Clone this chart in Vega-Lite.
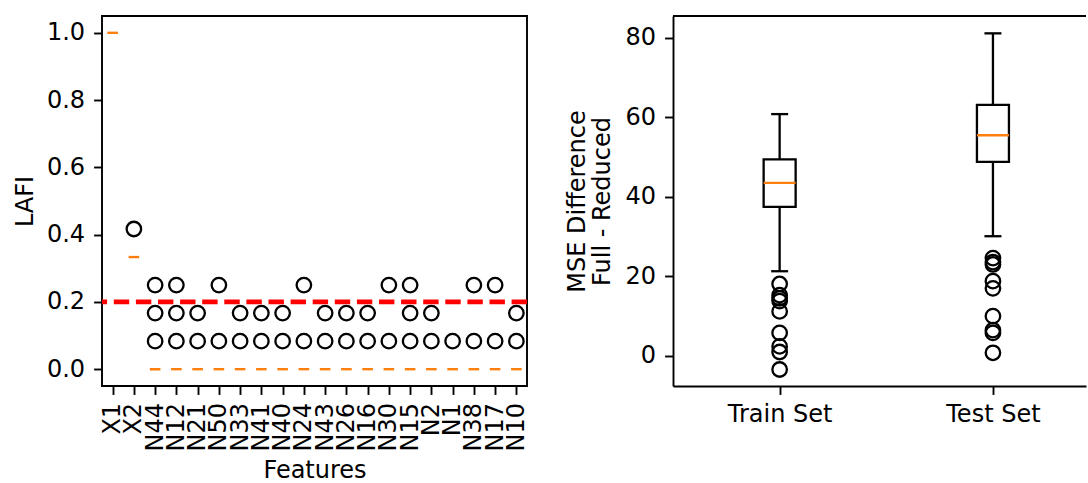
{
  "$schema": "https://vega.github.io/schema/vega-lite/v6.json",
  "padding": {"left": 12, "top": 15, "right": 0, "bottom": 0},
  "bounds": "flush",
  "spacing": 146,
  "config": {
    "font": "DejaVu Sans",
    "view": {"stroke": "#000000", "strokeWidth": 1.9},
    "axis": {
      "domain": false,
      "grid": false,
      "ticks": true,
      "tickColor": "#000000",
      "tickSize": 8.4,
      "tickWidth": 1.9,
      "labelColor": "#000000",
      "labelFont": "DejaVu Sans",
      "labelFontSize": 24,
      "labelPadding": 8,
      "titleColor": "#000000",
      "titleFont": "DejaVu Sans",
      "titleFontSize": 24,
      "titleFontWeight": "normal"
    }
  },
  "datasets": {
    "lafi_medians": [
      {"Feature": "X1", "median": 1.0},
      {"Feature": "X2", "median": 0.3333},
      {"Feature": "N44", "median": 0},
      {"Feature": "N12", "median": 0},
      {"Feature": "N21", "median": 0},
      {"Feature": "N50", "median": 0},
      {"Feature": "N33", "median": 0},
      {"Feature": "N41", "median": 0},
      {"Feature": "N40", "median": 0},
      {"Feature": "N24", "median": 0},
      {"Feature": "N43", "median": 0},
      {"Feature": "N26", "median": 0},
      {"Feature": "N16", "median": 0},
      {"Feature": "N30", "median": 0},
      {"Feature": "N15", "median": 0},
      {"Feature": "N2", "median": 0},
      {"Feature": "N1", "median": 0},
      {"Feature": "N38", "median": 0},
      {"Feature": "N17", "median": 0},
      {"Feature": "N10", "median": 0}
    ],
    "lafi_outliers": [
      {"Feature": "X2", "LAFI": 0.4167},
      {"Feature": "N44", "LAFI": 0.0833}, {"Feature": "N44", "LAFI": 0.1667}, {"Feature": "N44", "LAFI": 0.25},
      {"Feature": "N12", "LAFI": 0.0833}, {"Feature": "N12", "LAFI": 0.1667}, {"Feature": "N12", "LAFI": 0.25},
      {"Feature": "N21", "LAFI": 0.0833}, {"Feature": "N21", "LAFI": 0.1667},
      {"Feature": "N50", "LAFI": 0.0833}, {"Feature": "N50", "LAFI": 0.25},
      {"Feature": "N33", "LAFI": 0.0833}, {"Feature": "N33", "LAFI": 0.1667},
      {"Feature": "N41", "LAFI": 0.0833}, {"Feature": "N41", "LAFI": 0.1667},
      {"Feature": "N40", "LAFI": 0.0833}, {"Feature": "N40", "LAFI": 0.1667},
      {"Feature": "N24", "LAFI": 0.0833}, {"Feature": "N24", "LAFI": 0.25},
      {"Feature": "N43", "LAFI": 0.0833}, {"Feature": "N43", "LAFI": 0.1667},
      {"Feature": "N26", "LAFI": 0.0833}, {"Feature": "N26", "LAFI": 0.1667},
      {"Feature": "N16", "LAFI": 0.0833}, {"Feature": "N16", "LAFI": 0.1667},
      {"Feature": "N30", "LAFI": 0.0833}, {"Feature": "N30", "LAFI": 0.25},
      {"Feature": "N15", "LAFI": 0.0833}, {"Feature": "N15", "LAFI": 0.1667}, {"Feature": "N15", "LAFI": 0.25},
      {"Feature": "N2", "LAFI": 0.0833}, {"Feature": "N2", "LAFI": 0.1667},
      {"Feature": "N1", "LAFI": 0.0833},
      {"Feature": "N38", "LAFI": 0.0833}, {"Feature": "N38", "LAFI": 0.25},
      {"Feature": "N17", "LAFI": 0.0833}, {"Feature": "N17", "LAFI": 0.25},
      {"Feature": "N10", "LAFI": 0.0833}, {"Feature": "N10", "LAFI": 0.1667}
    ],
    "mse_boxes": [
      {"Set": "Train Set", "lower": 21.3, "q1": 37.5, "median": 43.5, "q3": 49.4, "upper": 60.8},
      {"Set": "Test Set", "lower": 30.1, "q1": 48.8, "median": 55.5, "q3": 63.1, "upper": 81.1}
    ],
    "mse_outliers": [
      {"Set": "Train Set", "MSE": 18.1},
      {"Set": "Train Set", "MSE": 15.3},
      {"Set": "Train Set", "MSE": 14.5},
      {"Set": "Train Set", "MSE": 13.8},
      {"Set": "Train Set", "MSE": 11.2},
      {"Set": "Train Set", "MSE": 5.8},
      {"Set": "Train Set", "MSE": 2.4},
      {"Set": "Train Set", "MSE": 1.0},
      {"Set": "Train Set", "MSE": -3.4},
      {"Set": "Test Set", "MSE": 24.6},
      {"Set": "Test Set", "MSE": 23.6},
      {"Set": "Test Set", "MSE": 23.0},
      {"Set": "Test Set", "MSE": 18.8},
      {"Set": "Test Set", "MSE": 17.0},
      {"Set": "Test Set", "MSE": 10.0},
      {"Set": "Test Set", "MSE": 6.5},
      {"Set": "Test Set", "MSE": 5.8},
      {"Set": "Test Set", "MSE": 0.8}
    ]
  },
  "hconcat": [
    {
      "width": 425,
      "height": 370,
      "layer": [
        {
          "data": {"name": "lafi_medians"},
          "mark": {"type": "tick", "orient": "horizontal", "color": "#ff7f0e", "size": 10.6, "thickness": 2.4, "opacity": 1},
          "encoding": {
            "x": {
              "field": "Feature", "type": "nominal",
              "scale": {"type": "point", "padding": 0.5,
                "domain": ["X1", "X2", "N44", "N12", "N21", "N50", "N33", "N41", "N40", "N24", "N43", "N26", "N16", "N30", "N15", "N2", "N1", "N38", "N17", "N10"]},
              "axis": {"title": "Features", "labelAngle": -90, "labelAlign": "right", "labelBaseline": "middle",
                "titleY": 84, "titleBaseline": "middle"}
            },
            "y": {
              "field": "median", "type": "quantitative",
              "scale": {"domain": [-0.05, 1.05], "nice": false, "zero": false},
              "axis": {"title": "LAFI", "values": [0, 0.2, 0.4, 0.6, 0.8, 1.0], "format": ".1f", "labelPadding": 9,
                "titleAngle": 270, "titleAlign": "center", "titleBaseline": "middle", "titleX": -77, "titleY": 185}
            }
          }
        },
        {
          "data": {"name": "lafi_outliers"},
          "mark": {"type": "point", "shape": "circle", "filled": false, "color": "#000000", "strokeWidth": 2.3, "size": 210, "opacity": 1},
          "encoding": {
            "x": {"field": "Feature", "type": "nominal"},
            "y": {"field": "LAFI", "type": "quantitative"}
          }
        },
        {
          "data": {"values": [{"threshold": 0.2}]},
          "mark": {"type": "rule", "color": "#ff0000", "strokeWidth": 4.6, "strokeDash": [15.4, 6.7]},
          "encoding": {
            "y": {"field": "threshold", "type": "quantitative"}
          }
        }
      ]
    },
    {
      "width": 413,
      "height": 370,
      "view": {"stroke": null},
      "layer": [
        {
          "data": {"name": "mse_boxes"},
          "mark": {"type": "rule", "color": "#000000", "strokeWidth": 2.3},
          "encoding": {
            "x": {
              "field": "Set", "type": "nominal",
              "scale": {"type": "point", "padding": 0.4681, "align": 0.534, "domain": ["Train Set", "Test Set"]},
              "axis": {"title": null, "labelAngle": 0, "domain": true, "domainColor": "#000000", "domainWidth": 1.9}
            },
            "y": {
              "field": "lower", "type": "quantitative",
              "scale": {"domain": [-7.55, 85.46], "nice": false, "zero": false},
              "axis": {"title": ["MSE Difference", "Full - Reduced"], "values": [0, 20, 40, 60, 80], "labelPadding": 9,
                "domain": true, "domainColor": "#000000", "domainWidth": 1.9,
                "titleAngle": 270, "titleAlign": "center", "titleBaseline": "middle", "titleLineHeight": 25,
                "titleX": -96, "titleY": 185}
            },
            "y2": {"field": "q1"}
          }
        },
        {
          "data": {"name": "mse_boxes"},
          "mark": {"type": "rule", "color": "#000000", "strokeWidth": 2.3},
          "encoding": {
            "x": {"field": "Set", "type": "nominal"},
            "y": {"field": "q3", "type": "quantitative"},
            "y2": {"field": "upper"}
          }
        },
        {
          "data": {"name": "mse_boxes"},
          "mark": {"type": "tick", "orient": "horizontal", "color": "#000000", "size": 17, "thickness": 2.3, "opacity": 1},
          "encoding": {
            "x": {"field": "Set", "type": "nominal"},
            "y": {"field": "lower", "type": "quantitative"}
          }
        },
        {
          "data": {"name": "mse_boxes"},
          "mark": {"type": "tick", "orient": "horizontal", "color": "#000000", "size": 17, "thickness": 2.3, "opacity": 1},
          "encoding": {
            "x": {"field": "Set", "type": "nominal"},
            "y": {"field": "upper", "type": "quantitative"}
          }
        },
        {
          "data": {"name": "mse_boxes"},
          "mark": {"type": "bar", "size": 32, "fill": "#ffffff", "stroke": "#000000", "strokeWidth": 2.3},
          "encoding": {
            "x": {"field": "Set", "type": "nominal"},
            "y": {"field": "q1", "type": "quantitative"},
            "y2": {"field": "q3"}
          }
        },
        {
          "data": {"name": "mse_boxes"},
          "mark": {"type": "tick", "orient": "horizontal", "color": "#ff7f0e", "size": 32, "thickness": 2.4, "opacity": 1},
          "encoding": {
            "x": {"field": "Set", "type": "nominal"},
            "y": {"field": "median", "type": "quantitative"}
          }
        },
        {
          "data": {"name": "mse_outliers"},
          "mark": {"type": "point", "shape": "circle", "filled": false, "color": "#000000", "strokeWidth": 2.3, "size": 210, "opacity": 1},
          "encoding": {
            "x": {"field": "Set", "type": "nominal"},
            "y": {"field": "MSE", "type": "quantitative"}
          }
        },
        {
          "data": {"values": [{}]},
          "mark": {"type": "rule", "color": "#000000", "strokeWidth": 1.9},
          "encoding": {
            "y": {"datum": 85.46, "type": "quantitative"}
          }
        }
      ]
    }
  ]
}
